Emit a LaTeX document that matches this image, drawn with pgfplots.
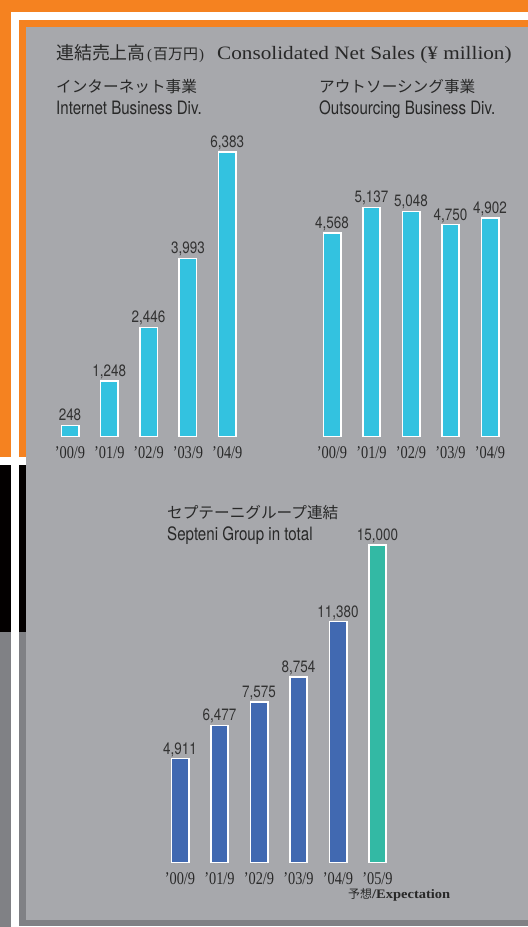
\documentclass[border=0pt]{standalone}
\usepackage{pgfplots}
\pgfplotsset{compat=1.18}
\usepackage{fontspec}
\setmainfont{Liberation Serif}
\newfontfamily\cjk{Noto Sans CJK JP}
\newfontfamily\serifW[FakeStretch=1.12]{Liberation Serif}
\newfontfamily\serifN[FakeStretch=0.80]{Liberation Serif}
\newfontfamily\sansS[FakeStretch=0.82]{TeX Gyre Heros}
\definecolor{panel}{RGB}{167,168,172}
\definecolor{orng}{RGB}{245,130,32}
\definecolor{blk}{RGB}{3,0,0}
\definecolor{dgray}{RGB}{128,129,133}
\definecolor{cyanbar}{RGB}{51,194,224}
\definecolor{bluebar}{RGB}{65,105,177}
\definecolor{tealbar}{RGB}{51,185,164}
\definecolor{txt}{RGB}{40,40,40}
\definecolor{valtxt}{RGB}{50,50,50}
\pgfplotsset{
  chartbase/.style={
    anchor=south west, scale only axis, clip=false,
    ymin=0, enlargelimits=false,
    ybar, bar width=17.4bp,
    axis line style={draw=none}, major tick length=0pt,
    ytick=\empty, xtick=data,
    xticklabel style={anchor=base, yshift=-22.3bp, text=txt,
      font=\serifN\fontsize{18}{18}\selectfont},
    nodes near coords,
    every node near coord/.append style={anchor=base, yshift=4.5bp, text=valtxt,
      font=\sansS\fontsize{16.5}{17}\selectfont},
    /pgf/number format/.cd, 1000 sep={,}, assume math mode=true,
  },
}
\begin{document}
\begin{tikzpicture}
\begin{scope}[x=1bp,y=1bp]
\path[use as bounding box] (0,0) rectangle (528,927);
\fill[panel] (0,0) rectangle (528,927);
% orange frame
\fill[orng] (0,900) rectangle (528,927);
\fill[orng] (0,469.7) rectangle (26,927);
% black and dark gray left
\fill[blk] (0,295) rectangle (26,462);
\fill[dgray] (0,0) rectangle (26,295);
\fill[dgray] (19,1) rectangle (528,7);
% white strips
\fill[white] (11,907) rectangle (528,915);
\fill[white] (11,0) rectangle (19,915);
\fill[white] (0,462) rectangle (26,469.7);
\fill[white] (11,0) rectangle (528,1);
% titles
\node[anchor=base west, inner sep=0, text=txt, font=\cjk\fontsize{18}{18}\selectfont] at (56,867.7) {連結売上高};
\node[anchor=base west, inner sep=0, text=txt] at (147,867.7) {\fontsize{15}{15}\selectfont(\hspace{1bp}{\cjk\fontsize{15}{15}\selectfont 百万円}\hspace{1bp})};
\node[anchor=base west, inner sep=0, text=txt, font=\serifW\fontsize{19}{19}\selectfont] at (217,867.7) {Consolidated Net Sales (¥ million)};
\node[anchor=base west, inner sep=0, text=txt, font=\cjk\fontsize{15.7}{16}\selectfont] at (56,834) {インターネット事業};
\node[anchor=base west, inner sep=0, text=txt, font=\sansS\fontsize{18.5}{19}\selectfont] at (56,812) {Internet Business Div.};
\node[anchor=base west, inner sep=0, text=txt, font=\cjk\fontsize{15.7}{16}\selectfont] at (319,834) {アウトソーシング事業};
\node[anchor=base west, inner sep=0, text=txt, font=\sansS\fontsize{18.5}{19}\selectfont] at (319,812) {Outsourcing Business Div.};
\node[anchor=base west, inner sep=0, text=txt, font=\cjk\fontsize{15.7}{16}\selectfont] at (167,408) {セプテーニグループ連結};
\node[anchor=base west, inner sep=0, text=txt, font=\sansS\fontsize{18.5}{19}\selectfont] at (167,386) {Septeni Group in total};
\node[anchor=base west, inner sep=0, text=txt] at (348,28.5) {{\cjk\fontsize{12}{12}\selectfont 予想}{\serifW\bfseries\fontsize{13}{13}\selectfont /Expectation}};
\end{scope}

% Internet Business
\begin{axis}[chartbase, at={(50.35bp,490.5bp)}, width=196.5bp, height=312.2bp,
  xmin=-0.5, xmax=4.5, ymax=7000,
  xticklabels={’00/9,’01/9,’02/9,’03/9,’04/9}]
\addplot[fill=cyanbar, draw=white, line width=1.6bp, bar shift=0pt]
  coordinates {(0,248) (1,1248) (2,2446) (3,3993) (4,6383)};
\end{axis}

% Outsourcing Business
\begin{axis}[chartbase, at={(312.25bp,490.5bp)}, width=197.5bp, height=312.2bp,
  xmin=-0.5, xmax=4.5, ymax=7000,
  xticklabels={’00/9,’01/9,’02/9,’03/9,’04/9}]
\addplot[fill=cyanbar, draw=white, line width=1.6bp, bar shift=0pt]
  coordinates {(0,4568) (1,5137) (2,5048) (3,4750) (4,4902)};
\end{axis}

% Group total
\begin{axis}[chartbase, at={(160.25bp,64.5bp)}, width=237bp, height=338.7bp,
  xmin=-0.5, xmax=5.5, ymax=16000, xtick={0,1,2,3,4,5},
  xticklabels={’00/9,’01/9,’02/9,’03/9,’04/9,’05/9}]
\addplot[fill=bluebar, draw=white, line width=1.6bp, bar shift=0pt]
  coordinates {(0,4911) (1,6477) (2,7575) (3,8754) (4,11380)};
\addplot[fill=tealbar, draw=white, line width=1.6bp, bar shift=0pt]
  coordinates {(5,15000)};
\end{axis}
\end{tikzpicture}
\end{document}
